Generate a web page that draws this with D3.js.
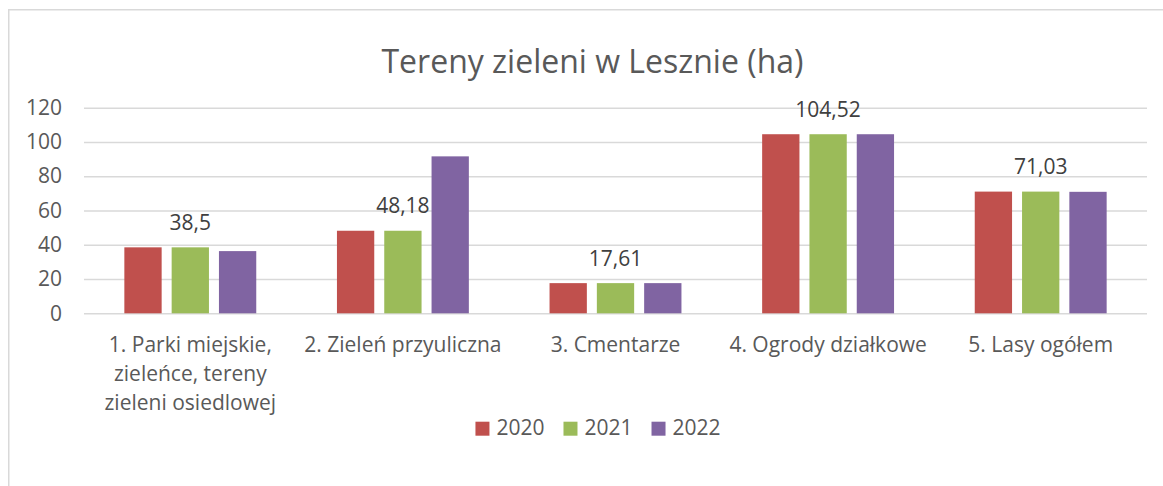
<!DOCTYPE html>
<html>
<head>
<meta charset="utf-8">
<script src="https://cdn.jsdelivr.net/npm/d3@7"></script>
<style>
  html, body { margin: 0; padding: 0; background: #fff; }
  svg { display: block; }
  text { font-family: "Open Sans", "Noto Sans", sans-serif; }
</style>
</head>
<body>
<svg id="chart" width="1163" height="486"></svg>
<script>
const title = "Tereny zieleni w Lesznie (ha)";
const categories = [
  "1. Parki miejskie, zieleńce, tereny zieleni osiedlowej",
  "2. Zieleń przyuliczna",
  "3. Cmentarze",
  "4. Ogrody działkowe",
  "5. Lasy ogółem"
];
const seriesNames = ["2020", "2021", "2022"];
const values2020 = [38.5, 48.18, 17.61, 104.52, 71.03];
const values2021 = [38.5, 48.18, 17.61, 104.52, 71.03];
const values2022 = [36.3, 91.6, 17.61, 104.52, 70.9];
const labelSeries = "2021";
const yTicks = [0, 20, 40, 60, 80, 100, 120];
const colors = ["#C0504D", "#9BBB59", "#8064A2"];

const seriesValues = [values2020, values2021, values2022];
const data = categories.map((c, i) => ({
  category: c,
  values: seriesNames.map((s, j) => ({ series: s, value: seriesValues[j][i] }))
}));

const svg = d3.select("#chart");

// Outer chart border (extends past right/bottom edge)
svg.append("rect")
  .attr("x", 8.75).attr("y", 9.75)
  .attr("width", 1170).attr("height", 500)
  .attr("fill", "#fff")
  .attr("stroke", "#D9D9D9").attr("stroke-width", 1.5);

const plot = { left: 84, right: 1147, top: 107.7, bottom: 313.3 };

const y = d3.scaleLinear().domain([0, 120]).range([plot.bottom, plot.top]);
const x0 = d3.scaleBand().domain(categories).range([plot.left, plot.right]).paddingInner(0).paddingOuter(0);
const x1 = d3.scaleBand().domain(seriesNames).range([0, x0.bandwidth()]).paddingInner(0.2114).paddingOuter(0.853);
const color = d3.scaleOrdinal().domain(seriesNames).range(colors);

// Title
svg.append("text")
  .attr("x", 592.5).attr("y", 73)
  .attr("text-anchor", "middle")
  .attr("fill", "#595959")
  .style("font-size", "32px")
  .text(title);

// Gridlines + y axis
const yAxis = d3.axisLeft(y).tickValues(yTicks).tickSize(-(plot.right - plot.left)).tickPadding(22);
const gy = svg.append("g").attr("transform", `translate(${plot.left},0)`).call(yAxis);
gy.select(".domain").remove();
gy.selectAll(".tick line").attr("stroke", "#D9D9D9").attr("stroke-width", 1.5);
gy.selectAll(".tick text")
  .attr("fill", "#595959")
  .style("font-size", "21px")
  .style("font-family", "'Open Sans', sans-serif");

// Bars
const groups = svg.append("g").selectAll("g")
  .data(data).join("g")
  .attr("transform", d => `translate(${x0(d.category)},0)`);

groups.selectAll("rect")
  .data(d => d.values).join("rect")
  .attr("x", d => x1(d.series))
  .attr("width", x1.bandwidth())
  .attr("y", d => y(d.value))
  .attr("height", d => y(0) - y(d.value))
  .attr("fill", d => color(d.series));

// Data labels (2021 series only)
groups.selectAll("text.lbl")
  .data(d => d.values.filter(v => v.series === labelSeries)).join("text")
  .attr("class", "lbl")
  .attr("x", d => x1(d.series) + x1.bandwidth() / 2)
  .attr("y", d => y(d.value) - 17.5)
  .attr("text-anchor", "middle")
  .attr("fill", "#404040")
  .style("font-size", "21px")
  .text(d => String(d.value).replace(".", ","));

// X axis category labels with wrapping
const xAxis = d3.axisBottom(x0).tickSize(0).tickPadding(0);
const gx = svg.append("g").attr("transform", `translate(0,${plot.bottom})`).call(xAxis);
gx.select(".domain").remove();
gx.selectAll(".tick text").each(function(d) {
  const t = d3.select(this);
  t.text(null).attr("y", 0).attr("dy", null)
    .attr("fill", "#595959")
    .style("font-size", "21px")
    .style("font-family", "'Open Sans', sans-serif");
  const words = d.split(/\s+/);
  const maxW = 200;
  let lines = [];
  let line = [];
  const probe = t.append("tspan");
  words.forEach(w => {
    line.push(w);
    probe.text(line.join(" "));
    if (probe.node().getComputedTextLength() > maxW && line.length > 1) {
      line.pop();
      lines.push(line.join(" "));
      line = [w];
    }
  });
  lines.push(line.join(" "));
  probe.remove();
  lines.forEach((ln, i) => {
    t.append("tspan").attr("x", 0).attr("y", 38.7 + i * 29).text(ln);
  });
});

// Legend
const legend = svg.append("g");
const legendCenter = 598;
const sq = 14, gapText = 7, gapItem = 19;
const items = legend.selectAll("g").data(seriesNames).join("g");
items.append("rect")
  .attr("width", sq).attr("height", sq)
  .attr("y", 421.7)
  .attr("fill", d => color(d));
items.append("text")
  .attr("x", sq + gapText).attr("y", 435)
  .attr("fill", "#595959")
  .style("font-size", "21px")
  .text(d => d);
let widths = [];
items.each(function() { widths.push(sq + gapText + d3.select(this).select("text").node().getComputedTextLength()); });
const total = d3.sum(widths) + gapItem * (widths.length - 1);
let cx = legendCenter - total / 2;
items.each(function(d, i) {
  d3.select(this).attr("transform", `translate(${cx},0)`);
  cx += widths[i] + gapItem;
});
</script>
</body>
</html>
